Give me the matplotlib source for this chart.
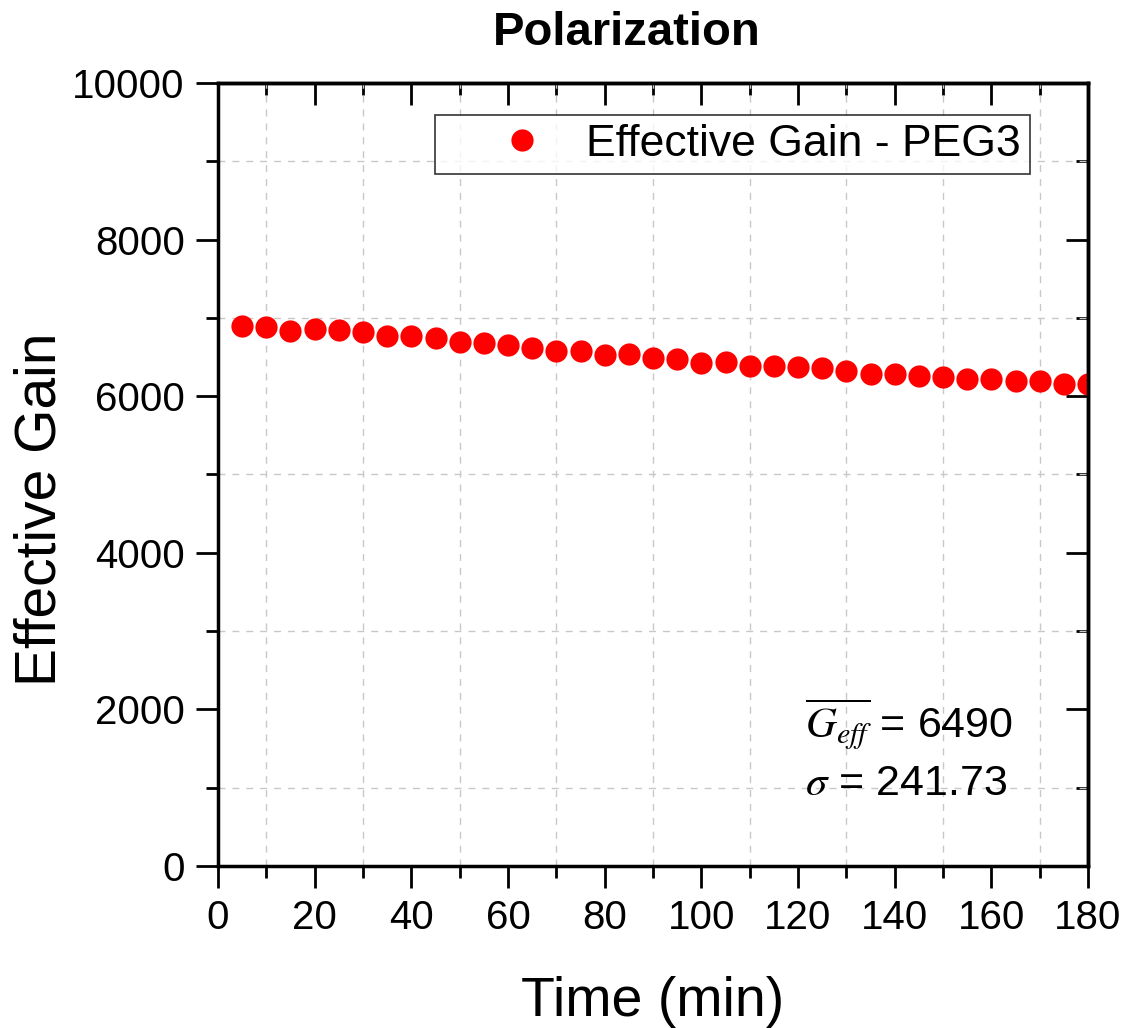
import matplotlib

matplotlib.use("Agg")
import matplotlib.pyplot as plt
from matplotlib.ticker import MultipleLocator

plt.rcParams["font.family"] = ["Liberation Sans", "DejaVu Sans"]
plt.rcParams["mathtext.fontset"] = "stix"

# data
time_min = [5, 10, 15, 20, 25, 30, 35, 40, 45, 50, 55, 60, 65, 70, 75, 80, 85, 90,
            95, 100, 105, 110, 115, 120, 125, 130, 135, 140, 145, 150, 155, 160, 165, 170, 175, 180]
gain = [6900, 6880, 6836, 6853, 6845, 6815, 6769, 6769, 6740, 6696, 6675, 6654, 6620, 6581, 6577, 6526, 6535, 6485,
        6475, 6428, 6432, 6386, 6386, 6377, 6356, 6318, 6283, 6283, 6258, 6241, 6220, 6220, 6198, 6194, 6156, 6156]
series_label = "Effective Gain - PEG3"
mean_gain = "6490"
sigma_gain = "241.73"

fig = plt.figure(figsize=(11.26, 10.28), dpi=100)
ax = fig.add_axes([0.1936, 0.1576, 0.7727, 0.7617])

ax.plot(time_min, gain, "o", color="#ff0000", markersize=16, markeredgewidth=0, label=series_label)

ax.set_xlim(0, 180)
ax.set_ylim(0, 10000)
ax.xaxis.set_major_locator(MultipleLocator(20))
ax.xaxis.set_minor_locator(MultipleLocator(10))
ax.yaxis.set_major_locator(MultipleLocator(2000))
ax.yaxis.set_minor_locator(MultipleLocator(1000))

ax.grid(which="minor", color="#c8c8c8", linestyle=(0, (5, 5)), linewidth=1)
ax.grid(which="major", visible=False)

for s in ax.spines.values():
    s.set_linewidth(2.5)

ax.tick_params(which="both", bottom=True, left=True, top=False, right=False, direction="out", width=2)
ax.tick_params(which="major", length=16, labelsize=29, pad=8)
ax.tick_params(which="minor", length=8.5)

# inward ticks on the top and right edges
sec_x = ax.secondary_xaxis("top")
sec_x.xaxis.set_major_locator(MultipleLocator(20))
sec_x.xaxis.set_minor_locator(MultipleLocator(10))
sec_x.tick_params(which="both", direction="in", width=2, labeltop=False)
sec_x.tick_params(which="major", length=16)
sec_x.tick_params(which="minor", length=8.5)
sec_x.spines["top"].set_linewidth(2.5)
sec_y = ax.secondary_yaxis("right")
sec_y.yaxis.set_major_locator(MultipleLocator(2000))
sec_y.yaxis.set_minor_locator(MultipleLocator(1000))
sec_y.tick_params(which="both", direction="in", width=2, labelright=False)
sec_y.tick_params(which="major", length=16)
sec_y.tick_params(which="minor", length=8.5)
sec_y.spines["right"].set_linewidth(2.5)

ax.set_xlabel("Time (min)", fontsize=40, labelpad=28)
ax.set_ylabel("Effective Gain", fontsize=41, labelpad=3, y=0.455)
ax.set_title("Polarization", fontsize=34, fontweight="bold", pad=27, x=0.47)

leg = ax.legend(loc="upper right", bbox_to_anchor=(0.9333, 0.959), borderaxespad=0,
                fontsize=32, frameon=True, fancybox=False, borderpad=0.2,
                handlelength=3.5, handletextpad=-0.3, numpoints=1)
leg.get_frame().set_edgecolor("black")
leg.get_frame().set_linewidth(1.2)

ax.text(0.675, 0.163, r"$\overline{G_{eff}}$ = " + mean_gain, transform=ax.transAxes,
        fontsize=31, va="baseline")
ax.text(0.675, 0.091, r"$\sigma$ = " + sigma_gain, transform=ax.transAxes,
        fontsize=31, va="baseline")

fig.savefig("out.png", dpi=100)
